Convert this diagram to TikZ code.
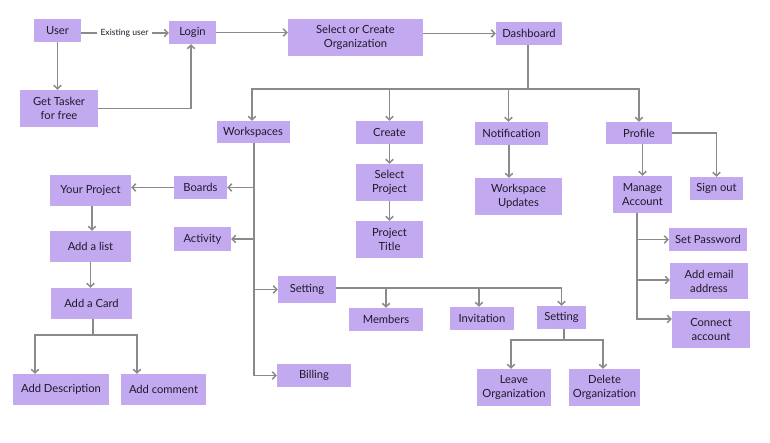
\documentclass[tikz,border=0pt]{standalone}
\usepackage{fontspec}
\setmainfont{Lato}
\usetikzlibrary{arrows.meta}
\definecolor{boxfill}{RGB}{195,170,240}
\definecolor{linecol}{RGB}{138,138,138}
\definecolor{txt}{RGB}{30,25,42}
\tikzset{
  box/.style={fill=boxfill, draw=none, text=txt, align=center, inner sep=1pt,
    font=\fontsize{11.2}{14}\selectfont},
  conn/.style={draw=linecol, line width=1.9pt},
  arr/.style={conn, -{Straight Barb[length=3.5pt,width=7.5pt,line width=1.5pt]}},
}
\begin{document}
\begin{tikzpicture}[x=1pt,y=-1pt]
\useasboundingbox (0,0) rectangle (770,443);
% nodes
\node[box, minimum width=47, minimum height=23] (user) at (57.5,30.5) {User};
\node[box, minimum width=47, minimum height=23] (login) at (192.5,32.5) {Login};
\node[box, minimum width=78, minimum height=37] (get) at (59,108.5) {Get Tasker\\for free};
\node[box, minimum width=135, minimum height=37] (select) at (355.5,37.5) {Select or Create\\Organization};
\node[box, minimum width=66, minimum height=23] (dash) at (529,33.5) {Dashboard};
\node[box, minimum width=73, minimum height=22] (work) at (253,132) {Workspaces};
\node[box, minimum width=67, minimum height=23] (create) at (389.5,132.5) {Create};
\node[box, minimum width=73, minimum height=23] (notif) at (511.5,133.5) {Notification};
\node[box, minimum width=66, minimum height=22] (prof) at (639,133) {Profile};
\node[box, minimum width=67, minimum height=37] (selproj) at (389.5,182.5) {Select\\Project};
\node[box, minimum width=67, minimum height=37] (title) at (389.5,239.5) {Project\\Title};
\node[box, minimum width=87, minimum height=37] (wu) at (518.5,196.5) {Workspace\\Updates};
\node[box, minimum width=53, minimum height=23] (sign) at (716.5,188.5) {Sign out};
\node[box, minimum width=59, minimum height=37] (manage) at (642.5,194.5) {Manage\\Account};
\node[box, minimum width=78, minimum height=23] (setpw) at (708,239.5) {Set Password};
\node[box, minimum width=78, minimum height=36] (email) at (709,281) {Add email\\address};
\node[box, minimum width=78, minimum height=37] (connect) at (711,329.5) {Connect\\account};
\node[box, minimum width=81, minimum height=31] (yp) at (90.5,190.5) {Your Project};
\node[box, minimum width=53, minimum height=23] (boards) at (200.5,187.5) {Boards};
\node[box, minimum width=57, minimum height=24] (activity) at (202.5,239) {Activity};
\node[box, minimum width=81, minimum height=31] (list) at (90.5,246.5) {Add a list};
\node[box, minimum width=81, minimum height=31] (card) at (91.5,303.5) {Add a Card};
\node[box, minimum width=96, minimum height=31] (desc) at (61,389.5) {Add Description};
\node[box, minimum width=85, minimum height=31] (comment) at (163.5,389.5) {Add comment};
\node[box, minimum width=58, minimum height=27] (set1) at (307,289.5) {Setting};
\node[box, minimum width=74, minimum height=23] (billing) at (314,375.5) {Billing};
\node[box, minimum width=74, minimum height=23] (members) at (386,319.5) {Members};
\node[box, minimum width=64, minimum height=23] (invit) at (482,318.5) {Invitation};
\node[box, minimum width=49, minimum height=23] (set2) at (561.5,317.5) {Setting};
\node[box, minimum width=74, minimum height=37] (leave) at (514,387.5) {Leave\\Organization};
\node[box, minimum width=71, minimum height=37] (delete) at (604.5,387.5) {Delete\\Organization};
\node[text=txt, font=\fontsize{8.6}{10}\selectfont, inner sep=3pt] (euser) at (124.5,33) {Existing user};
% connectors
\draw[conn] (user.east |- euser.west) -- (euser.west);
\draw[arr] (euser.east) -- (login.west |- euser.east);
\draw[arr] (user.south) -- (user.south |- get.north);
\draw[arr] (get.east) -| ([xshift=-1.5]login.south);
\draw[arr] (login.east) -- (select.west |- login.east);
\draw[arr] (select.east |- dash.west) -- (dash.west);
\coordinate (bus) at (528,89);
\draw[conn] ([xshift=-1]dash.south) -- (bus);
\draw[arr] (bus) -| ([xshift=-1]work.north);
\draw[arr] (bus) -| (prof.north);
\draw[arr] (create.north |- bus) -- (create.north);
\draw[arr] ([xshift=-3]notif.north |- bus) -- ([xshift=-3]notif.north);
\draw[arr] (create.south) -- (selproj.north);
\draw[arr] (selproj.south) -- (title.north);
\draw[arr] ([xshift=-2.5]notif.south) -- ([xshift=-2.5]notif.south |- wu.north);
\draw[arr] (prof.east) -| (sign.north);
\draw[arr] (manage.north |- prof.south) -- (manage.north);
\coordinate (mt) at ([xshift=-5.5]manage.south);
\draw[arr] (mt) |- (setpw.west);
\draw[arr] (mt) |- ([yshift=1]email.west);
\draw[arr] (mt) |- ([yshift=10.5]connect.west);
% workspaces trunk
\coordinate (wt) at ([xshift=1]work.south);
\draw[arr] (wt) |- (boards.east);
\draw[arr] (wt) |- (activity.east);
\draw[arr] (wt) |- (set1.west);
\draw[arr] (wt) |- (billing.west);
\draw[arr] (boards.west) -- (yp.east |- boards.west);
\draw[arr] ([xshift=1.5]yp.south) -- ([xshift=1.5]yp.south |- list.north);
\draw[arr] (list.south) -- (list.south |- card.north);
\coordinate (cardbus) at (93,335);
\draw[conn] ([xshift=1.5]card.south) -- (cardbus);
\draw[arr] (cardbus) -| ([xshift=-26]desc.north);
\draw[arr] (cardbus) -| ([xshift=-26.5]comment.north);
% setting bus
\draw[arr] ([yshift=1.5]set1.east) -| (set2.north);
\draw[arr] ([yshift=1.5]set1.east) -| (members.north);
\draw[arr] ([yshift=1.5]set1.east) -| ([xshift=-3]invit.north);
\coordinate (s2bus) at (564,340);
\draw[conn] ([xshift=2.5]set2.south) -- (s2bus);
\draw[arr] (s2bus) -| ([xshift=-3]leave.north);
\draw[arr] (s2bus) -| ([xshift=-1.5]delete.north);
\end{tikzpicture}
\end{document}
